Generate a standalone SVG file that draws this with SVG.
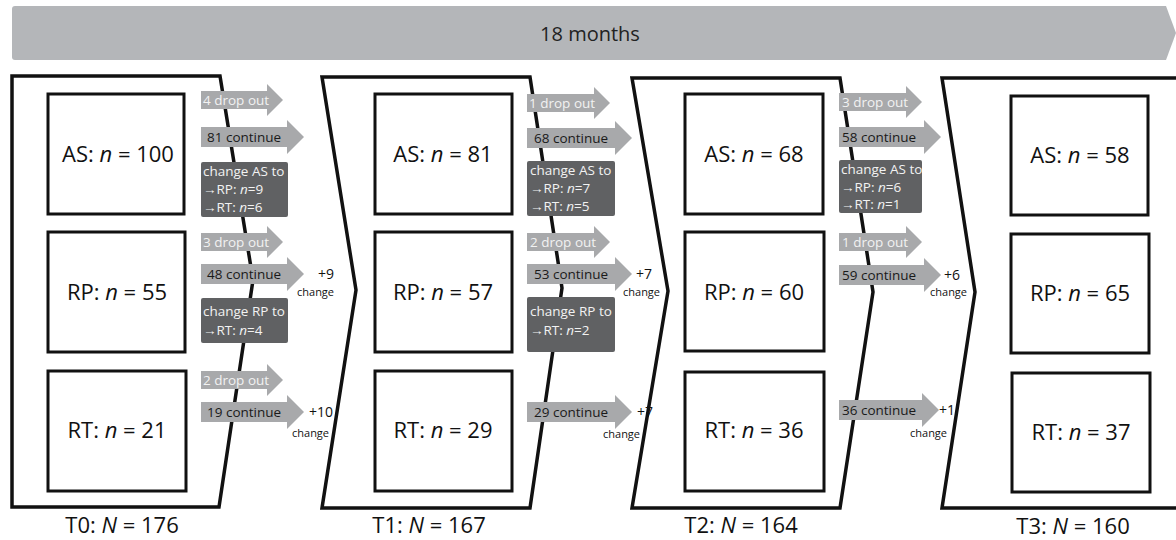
<svg xmlns="http://www.w3.org/2000/svg" width="1176" height="540" viewBox="0 0 1176 540">
<style>
.frame{fill:none;stroke:#111;stroke-width:3.5;stroke-linejoin:miter}
.box{fill:#fff;stroke:#111;stroke-width:3}
.arr{fill:#a8a9ab}
.chg{fill:#606163}
.big{font-family:"Open Sans","Noto Sans",sans-serif;font-size:22px;fill:#111;text-anchor:middle}
.lbl{font-family:"Open Sans","Noto Sans",sans-serif;font-size:13.5px}
.lt{fill:#f2f2f2}
.dk{fill:#1a1a1a}
.pl{font-family:"Open Sans","Noto Sans",sans-serif;font-size:14px;fill:#111}
.ch{font-family:"Open Sans","Noto Sans",sans-serif;font-size:11px;fill:#111}
.it{font-style:italic}
</style>
<rect width="1176" height="540" fill="#fff"/>
<g id="timeline">
<path d="M15,6 H1166 L1176,33 L1166,60 H15 Q12,60 12,57 V9 Q12,6 15,6 Z" fill="#b4b6b9"/>
<text x="590" y="41" font-family="Open Sans, Noto Sans, sans-serif" font-size="20" fill="#222" text-anchor="middle">18 months</text>
</g>
<g id="T0">
<path class="frame" d="M12,76 H220 L253,280 L219,507 H12 Z"/>
<g id="T0-AS"><rect class="box" x="48" y="94" width="136" height="120"/><text class="big" x="118" y="162">AS: <tspan class="it">n</tspan> = 100</text></g>
<g id="T0-RP"><rect class="box" x="48" y="232" width="137" height="120"/><text class="big" x="117" y="300">RP: <tspan class="it">n</tspan> = 55</text></g>
<g id="T0-RT"><rect class="box" x="48" y="371" width="138" height="120"/><text class="big" x="117" y="438">RT: <tspan class="it">n</tspan> = 21</text></g>
<text class="big" x="122" y="533">T0: <tspan class="it">N</tspan> = 176</text>
</g>
<g id="T1">
<path class="frame" d="M322,77 H530 L562,288 L530,508 H322 L356,290 Z"/>
<g id="T1-AS"><rect class="box" x="375" y="94" width="137" height="120"/><text class="big" x="443" y="162">AS: <tspan class="it">n</tspan> = 81</text></g>
<g id="T1-RP"><rect class="box" x="375" y="232" width="137" height="120"/><text class="big" x="443" y="300">RP: <tspan class="it">n</tspan> = 57</text></g>
<g id="T1-RT"><rect class="box" x="375" y="371" width="137" height="120"/><text class="big" x="443" y="438">RT: <tspan class="it">n</tspan> = 29</text></g>
<text class="big" x="429" y="533">T1: <tspan class="it">N</tspan> = 167</text>
</g>
<g id="T2">
<path class="frame" d="M632,78 H840 L873,292 L840,508 H632 L668,291 Z"/>
<g id="T2-AS"><rect class="box" x="685" y="94" width="138" height="120"/><text class="big" x="754" y="162">AS: <tspan class="it">n</tspan> = 68</text></g>
<g id="T2-RP"><rect class="box" x="685" y="232" width="139" height="119"/><text class="big" x="754" y="300">RP: <tspan class="it">n</tspan> = 60</text></g>
<g id="T2-RT"><rect class="box" x="685" y="372" width="139" height="119"/><text class="big" x="754" y="438">RT: <tspan class="it">n</tspan> = 36</text></g>
<text class="big" x="741" y="533">T2: <tspan class="it">N</tspan> = 164</text>
</g>
<g id="T3">
<path class="frame" d="M1180,78 H942 L975,292 L942,508 H1180"/>
<g id="T3-AS"><rect class="box" x="1011" y="96" width="137" height="119"/><text class="big" x="1080" y="163">AS: <tspan class="it">n</tspan> = 58</text></g>
<g id="T3-RP"><rect class="box" x="1011" y="234" width="138" height="119"/><text class="big" x="1080" y="301">RP: <tspan class="it">n</tspan> = 65</text></g>
<g id="T3-RT"><rect class="box" x="1012" y="373" width="138" height="119"/><text class="big" x="1081" y="440">RT: <tspan class="it">n</tspan> = 37</text></g>
<text class="big" x="1073" y="534">T3: <tspan class="it">N</tspan> = 160</text>
</g>
<g id="connectors">
<path class="arr" d="M201,91H267V84L283,100L267,116V109H201Z"/>
<text class="lbl lt" x="203" y="105">4 drop out</text>
<path class="arr" d="M201,127H287V120L304,137L287,154V147H201Z"/>
<text class="lbl dk" x="207" y="142">81 continue</text>
<rect class="chg" x="201" y="162" width="87" height="55" rx="2"/>
<text class="lbl lt" x="203" y="176">change AS to</text>
<text class="lbl lt" x="203" y="194">→RP: <tspan class="it">n</tspan>=9</text>
<text class="lbl lt" x="203" y="212">→RT: <tspan class="it">n</tspan>=6</text>
<path class="arr" d="M201,233H267V226L283,242L267,258V251H201Z"/>
<text class="lbl lt" x="203" y="247">3 drop out</text>
<path class="arr" d="M201,264H287V257L304,274L287,291V284H201Z"/>
<text class="lbl dk" x="207" y="279">48 continue</text>
<text class="pl" x="318" y="279">+9</text>
<text class="ch" x="297" y="296">change</text>
<rect class="chg" x="201" y="298" width="87" height="45" rx="2"/>
<text class="lbl lt" x="203" y="316">change RP to</text>
<text class="lbl lt" x="203" y="335">→RT: <tspan class="it">n</tspan>=4</text>
<path class="arr" d="M201,371H267V364L283,380L267,396V389H201Z"/>
<text class="lbl lt" x="203" y="385">2 drop out</text>
<path class="arr" d="M201,402H287V395L304,412L287,429V422H201Z"/>
<text class="lbl dk" x="207" y="417">19 continue</text>
<text class="pl" x="309" y="417">+10</text>
<text class="ch" x="292" y="437">change</text>
<path class="arr" d="M527,94H594V87L610,103L594,119V112H527Z"/>
<text class="lbl lt" x="529" y="108">1 drop out</text>
<path class="arr" d="M527,128H615V121L632,138L615,155V148H527Z"/>
<text class="lbl dk" x="534" y="143">68 continue</text>
<rect class="chg" x="527" y="161" width="88" height="55" rx="2"/>
<text class="lbl lt" x="530" y="175">change AS to</text>
<text class="lbl lt" x="530" y="193">→RP: <tspan class="it">n</tspan>=7</text>
<text class="lbl lt" x="530" y="211">→RT: <tspan class="it">n</tspan>=5</text>
<path class="arr" d="M527,233H594V226L610,242L594,258V251H527Z"/>
<text class="lbl lt" x="530" y="247">2 drop out</text>
<path class="arr" d="M527,264H615V257L632,274L615,291V284H527Z"/>
<text class="lbl dk" x="534" y="279">53 continue</text>
<text class="pl" x="636" y="279">+7</text>
<text class="ch" x="623" y="296">change</text>
<rect class="chg" x="527" y="297" width="88" height="55" rx="2"/>
<text class="lbl lt" x="530" y="316">change RP to</text>
<text class="lbl lt" x="530" y="335">→RT: <tspan class="it">n</tspan>=2</text>
<path class="arr" d="M527,402H615V395L632,412L615,429V422H527Z"/>
<text class="lbl dk" x="534" y="417">29 continue</text>
<text class="pl" x="637" y="417">+7</text>
<text class="ch" x="603" y="438">change</text>
<path class="arr" d="M839,93H906V86L922,102L906,118V111H839Z"/>
<text class="lbl lt" x="842" y="107">3 drop out</text>
<path class="arr" d="M839,127H924V120L941,137L924,154V147H839Z"/>
<text class="lbl dk" x="842" y="142">58 continue</text>
<rect class="chg" x="839" y="160" width="83" height="53" rx="2"/>
<text class="lbl lt" x="841" y="174">change AS to</text>
<text class="lbl lt" x="841" y="192">→RP: <tspan class="it">n</tspan>=6</text>
<text class="lbl lt" x="841" y="209">→RT: <tspan class="it">n</tspan>=1</text>
<path class="arr" d="M839,233H906V226L922,242L906,258V251H839Z"/>
<text class="lbl lt" x="842" y="247">1 drop out</text>
<path class="arr" d="M839,265H924V258L941,275L924,292V285H839Z"/>
<text class="lbl dk" x="842" y="280">59 continue</text>
<text class="pl" x="944" y="280">+6</text>
<text class="ch" x="930" y="296">change</text>
<path class="arr" d="M839,400H922V393L939,410L922,427V420H839Z"/>
<text class="lbl dk" x="842" y="415">36 continue</text>
<text class="pl" x="939" y="415">+1</text>
<text class="ch" x="910" y="437">change</text>
</g>
</svg>
